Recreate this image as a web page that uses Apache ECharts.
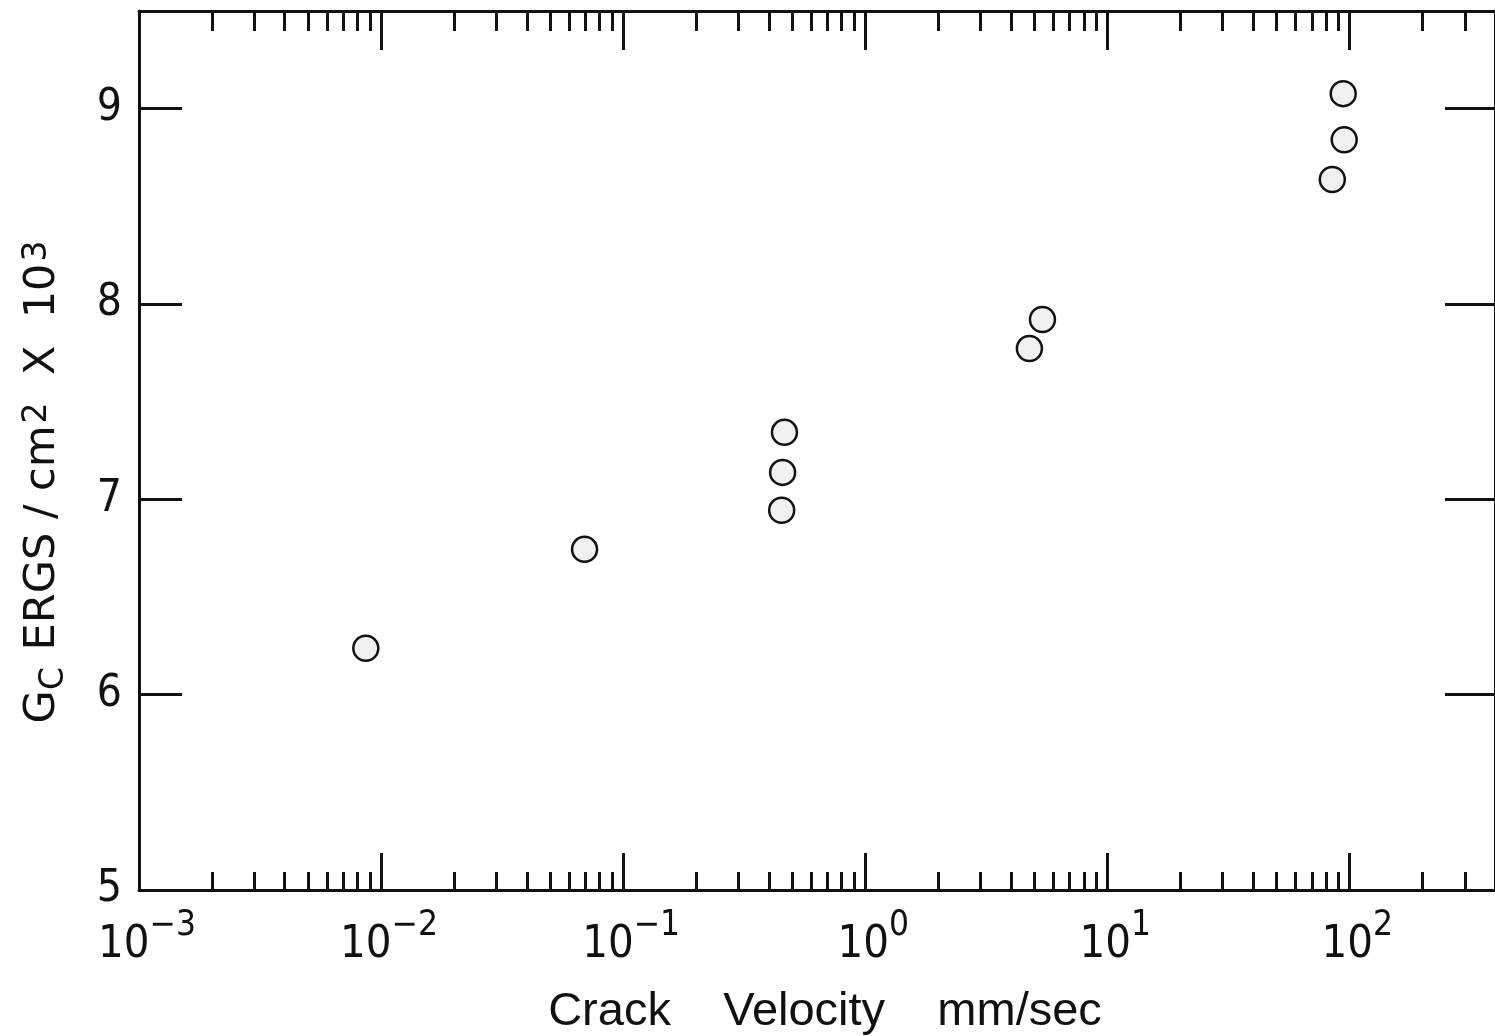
<!DOCTYPE html>
<html>
<head>
<meta charset="utf-8">
<script src="https://cdn.jsdelivr.net/npm/echarts@6/dist/echarts.min.js"></script>
<style>
html,body{margin:0;padding:0;background:#fff;}
#chart{width:1495px;height:1036px;}
</style>
</head>
<body>
<div id="chart"></div>
<script>
// ---- data ----
var crackVelocity = [0.00865, 0.0693, 0.464, 0.456, 0.452, 5.40, 4.77, 94.4, 95.3, 85.1]; // mm/sec
var gcValues      = [6.238, 6.744, 7.343, 7.138, 6.944, 7.921, 7.772, 9.077, 8.841, 8.637]; // ERGS/cm^2 x10^3
var majorTickValues = [0.001, 0.01, 0.1, 1, 10, 100];
var minorMultipliers = [2, 3, 4, 5, 6, 7, 8, 9];
var minorTickValues = [];
majorTickValues.forEach(function (d) {
  minorMultipliers.forEach(function (m) {
    var v = +(d * m).toPrecision(3);
    if (v < 400) minorTickValues.push(v);
  });
});
var yTickLabels = [5, 6, 7, 8, 9];
var yMajorTicks = [6, 7, 8, 9];
var xAxisTitle = 'Crack    Velocity    mm/sec';

var FONT = '"DejaVu Sans Condensed", "Liberation Sans Narrow", "Liberation Sans", sans-serif';
var FONT2 = '"Liberation Sans", "DejaVu Sans", sans-serif';
var FONT3 = '"DejaVu Sans", "Liberation Sans", sans-serif';
var BLACK = '#111';

var chart = echarts.init(document.getElementById('chart'), null, {renderer: 'canvas'});

function xAxisBase(pos, showLabel, ticks, tickLen, drawLine) {
  return {
    type: 'log',
    logBase: 10,
    min: 0.001,
    max: 400,
    position: pos,
    gridIndex: 0,
    axisLine: {show: drawLine, onZero: false, lineStyle: {color: BLACK, width: 3}},
    axisTick: {show: true, inside: true, length: tickLen, customValues: ticks,
               lineStyle: {color: BLACK, width: 3}},
    splitLine: {show: false},
    minorTick: {show: false},
    axisLabel: showLabel ? {
      show: true,
      customValues: majorTickValues,
      margin: 18,
      formatter: function (v) {
        var e = Math.round(Math.log10(v));
        return '{b|10}{s|' + (e < 0 ? '\u2212' + (-e) : e) + '}';
      },
      rich: {
        b: {fontFamily: FONT, fontSize: 45, lineHeight: 60, verticalAlign: 'bottom', color: BLACK, padding: [0, 0, 0, 16]},
        s: {fontFamily: FONT, fontSize: 35, lineHeight: 32, verticalAlign: 'top', color: BLACK}
      }
    } : {show: false}
  };
}

var option = {
  backgroundColor: '#ffffff',
  animation: false,
  grid: {left: 139, top: 11, right: -1, bottom: 146, containLabel: false},
  xAxis: [
    xAxisBase('bottom', true, majorTickValues, 37, true),
    xAxisBase('bottom', false, minorTickValues, 18, false),
    xAxisBase('top', false, majorTickValues, 39, true),
    xAxisBase('top', false, minorTickValues, 20, false)
  ],
  yAxis: [
    {
      type: 'value', min: 5, max: 9.5, interval: 1, position: 'left',
      axisLine: {show: true, lineStyle: {color: BLACK, width: 3}},
      axisTick: {show: true, inside: true, length: 43, customValues: yMajorTicks,
                 lineStyle: {color: BLACK, width: 3}},
      splitLine: {show: false},
      axisLabel: {show: true, customValues: yTickLabels, margin: 17,
                  fontFamily: FONT, fontSize: 44, color: BLACK}
    },
    {
      type: 'value', min: 5, max: 9.5, interval: 1, position: 'right',
      axisLine: {show: true, lineStyle: {color: BLACK, width: 3}},
      axisTick: {show: true, inside: true, length: 50, customValues: yMajorTicks,
                 lineStyle: {color: BLACK, width: 3}},
      splitLine: {show: false},
      axisLabel: {show: false}
    }
  ],
  series: [{
    type: 'scatter',
    xAxisIndex: 0,
    yAxisIndex: 0,
    symbol: 'circle',
    symbolSize: 25,
    itemStyle: {color: '#f0f0f0', borderColor: BLACK, borderWidth: 2.5, opacity: 1},
    data: crackVelocity.map(function (v, i) { return [v, gcValues[i]]; })
  }],
  graphic: [
    {
      type: 'text', x: 825, y: 1012,
      style: {text: xAxisTitle, align: 'center', verticalAlign: 'middle',
              font: '47px ' + FONT2, fill: BLACK}
    },
    {
      type: 'text', x: 46, y: 482, rotation: Math.PI / 2,
      style: {
        text: '{g|G}{c|C}     {t|ERGS / cm}{p|2}{t|  X  10}{p|3}',
        align: 'center', verticalAlign: 'middle', fill: BLACK,
        rich: {
          g: {fontFamily: FONT3, fontSize: 43, lineHeight: 50, verticalAlign: 'top', fill: BLACK},
          t: {fontFamily: FONT3, fontSize: 43, lineHeight: 50, verticalAlign: 'top', fill: BLACK},
          c: {fontFamily: FONT3, fontSize: 33, lineHeight: 36, verticalAlign: 'bottom', fill: BLACK},
          p: {fontFamily: FONT3, fontSize: 33, lineHeight: 36, verticalAlign: 'top', fill: BLACK, padding: [0, 0, 8, 2]}
        }
      }
    }
  ]
};
chart.setOption(option);
</script>
</body>
</html>
